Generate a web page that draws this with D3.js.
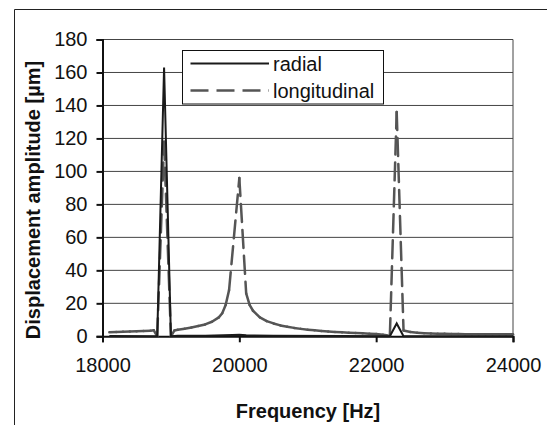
<!DOCTYPE html>
<html>
<head>
<meta charset="utf-8">
<script src="https://d3js.org/d3.v7.min.js"></script>
<style>
  body { margin: 0; background: #fff; }
  svg text { font-family: "Liberation Sans", Arial, sans-serif; fill: #111; }
</style>
</head>
<body>
<script>
// frequency samples [Hz] and amplitudes [um]
var longFreq = [18100, 18200, 18300, 18400, 18500, 18600, 18700, 18750, 18800, 18900, 19000, 19050, 19100, 19200, 19300, 19400, 19500, 19600, 19700, 19750, 19800, 19850, 20000, 20100, 20150, 20200, 20300, 20400, 20500, 20600, 20700, 20800, 20900, 21000, 21100, 21200, 21300, 21400, 21500, 21600, 21700, 21800, 21900, 22000, 22100, 22150, 22200, 22300, 22400, 22500, 22600, 22700, 22800, 22900, 23000, 23100, 23200, 23300, 23400, 23500, 23600, 23700, 23800, 23900, 24000];
var longAmp  = [2.5, 2.6, 2.7, 2.9, 3.0, 3.2, 3.4, 3.6, 0, 118, 0, 3.5, 4.0, 4.6, 5.3, 6.2, 7.2, 8.8, 11.5, 14, 19, 28, 96, 26, 19, 15.5, 11.5, 9.2, 7.8, 6.6, 5.8, 5.1, 4.5, 4.0, 3.6, 3.2, 2.9, 2.6, 2.4, 2.2, 2.0, 1.8, 1.6, 1.4, 1.0, 0.6, 0, 136, 3.5, 2.6, 2.2, 1.9, 1.7, 1.6, 1.5, 1.4, 1.4, 1.3, 1.3, 1.3, 1.2, 1.2, 1.2, 1.2, 1.2];

var radFreq = [18100, 18800, 18900, 19000, 19100, 19500, 19900, 20000, 20100, 20500, 21500, 22200, 22300, 22400, 23000, 24000];
var radAmp  = [0.2, 0, 163, 0, 0.3, 0.3, 0.8, 1, 0.6, 0.3, 0.2, 0, 7.8, 0, 0.1, 0.1];

var xTicks = [18000, 20000, 22000, 24000];
var yTicks = [0, 20, 40, 60, 80, 100, 120, 140, 160, 180];
var seriesNames = ["radial", "longitudinal"];

var svg = d3.select("body").append("svg").attr("width", 547).attr("height", 425);

// outer frame
svg.append("line").attr("x1", 14.5).attr("y1", 9.5).attr("x2", 547).attr("y2", 9.5).style("stroke", "#222").style("stroke-width", 1);
svg.append("line").attr("x1", 14.5).attr("y1", 9.5).attr("x2", 14.5).attr("y2", 425).style("stroke", "#222").style("stroke-width", 1);

var x = d3.scaleLinear().domain([18000, 24000]).range([102.5, 513]);
var y = d3.scaleLinear().domain([0, 180]).range([336.3, 39.5]);

// gridlines
svg.selectAll("line.grid").data(yTicks.slice(1)).enter().append("line")
  .attr("class", "grid")
  .attr("x1", x(18000)).attr("x2", x(24000))
  .attr("y1", function(d){ return y(d); }).attr("y2", function(d){ return y(d); })
  .style("stroke", "#444").style("stroke-width", 1);
svg.append("line").attr("x1", x(24000)).attr("x2", x(24000)).attr("y1", y(180)).attr("y2", y(0))
  .style("stroke", "#444").style("stroke-width", 1);

// axes
var yAxis = d3.axisLeft(y).tickValues(yTicks).tickSize(6).tickPadding(9);
var gy = svg.append("g").attr("transform", "translate(" + x(18000) + ",0)").call(yAxis);
var xAxis = d3.axisBottom(x).tickValues(xTicks).tickFormat(d3.format("d")).tickSize(6).tickPadding(16);
var gx = svg.append("g").attr("transform", "translate(0," + y(0) + ")").call(xAxis);
[gx, gy].forEach(function(g){
  g.select(".domain").style("stroke", "#111").style("stroke-width", 2);
  g.selectAll(".tick line").style("stroke", "#111").style("stroke-width", 2);
  g.selectAll(".tick text").style("font-size", "20px").style("font-family", "Liberation Sans, Arial, sans-serif").attr("fill", "#111");
});

// longitudinal: dash pattern restarts on every segment (like the original)
var longPts = longFreq.map(function(f, i){ return [f, longAmp[i]]; });
var segs = d3.pairs(longPts);
svg.selectAll("line.long").data(segs).enter().append("line")
  .attr("class", "long")
  .attr("x1", function(d){ return x(d[0][0]); }).attr("y1", function(d){ return y(d[0][1]); })
  .attr("x2", function(d){ return x(d[1][0]); }).attr("y2", function(d){ return y(d[1][1]); })
  .style("stroke", "#555").style("stroke-width", 2.5)
  .style("stroke-dasharray", "18,8").style("stroke-linecap", "round");

// radial
var line = d3.line().x(function(d){ return x(d[0]); }).y(function(d){ return y(d[1]); });
svg.append("path")
  .datum(radFreq.map(function(f, i){ return [f, radAmp[i]]; }))
  .attr("d", line)
  .style("fill", "none").style("stroke", "#1a1a1a").style("stroke-width", 2)
  .style("stroke-linejoin", "miter");

// legend
var lg = svg.append("g");
lg.append("rect").attr("x", 182.5).attr("y", 50.5).attr("width", 201).attr("height", 53.5)
  .style("fill", "#fff").style("stroke", "#111").style("stroke-width", 1);
lg.append("line").attr("x1", 190.5).attr("x2", 269).attr("y1", 63.5).attr("y2", 63.5)
  .style("stroke", "#1a1a1a").style("stroke-width", 2);
lg.append("line").attr("x1", 190.5).attr("x2", 269).attr("y1", 90.5).attr("y2", 90.5)
  .style("stroke", "#555").style("stroke-width", 2.5).style("stroke-dasharray", "18,8");
lg.selectAll("text").data(seriesNames).enter().append("text")
  .attr("x", 273).attr("y", function(d, i){ return 71 + i * 27; })
  .style("font-size", "20px")
  .text(function(d){ return d; });

// axis titles
svg.append("text").attr("x", 308).attr("y", 418).attr("text-anchor", "middle")
  .style("font-size", "20px").style("font-weight", "bold").text("Frequency [Hz]");
svg.append("text").attr("transform", "translate(40,200) rotate(-90)").attr("text-anchor", "middle")
  .style("font-size", "20px").style("font-weight", "bold").text("Displacement amplitude [µm]");
</script>
</body>
</html>
